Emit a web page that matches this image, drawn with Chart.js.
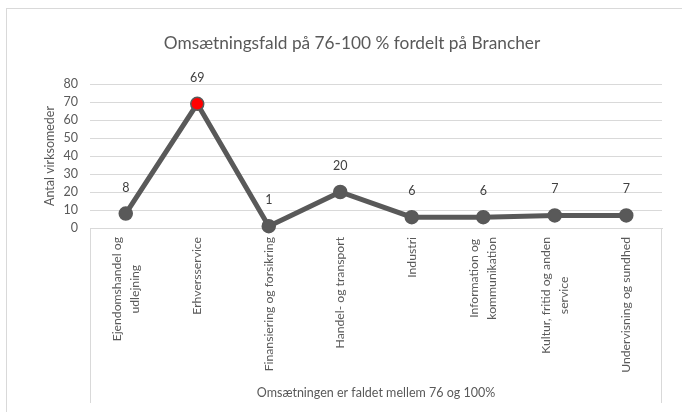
<!DOCTYPE html>
<html>
<head>
<meta charset="utf-8">
<script src="https://cdn.jsdelivr.net/npm/chart.js@4"></script>
<style>
  body { margin: 0; background: #fff; }
  canvas { display: block; }
</style>
</head>
<body>
<canvas id="brancheChart" width="682" height="412"></canvas>
<script>
const chartTitle = 'Omsætningsfald på 76-100 % fordelt på Brancher';
const yTitle = 'Antal virksomeder';
const xTitle = 'Omsætningen er faldet mellem 76 og 100%';
const categories = [
    ['Ejendomshandel og', 'udlejning'],
    'Erhversservice',
    'Finansiering og forsikring',
    'Handel- og transport',
    'Industri',
    ['Information og', 'kommunikation'],
    ['Kultur, fritid og anden', 'service'],
    'Undervisning og sundhed'
];
const antal = [8, 69, 1, 20, 6, 6, 7, 7];
const highlightIndex = 1; // Erhversservice er markeret med rødt

const FONT = 'Lato, "Liberation Sans", sans-serif';
const TXT = '#595959';
const GRID = '#d9d9d9';

// Excel-diagrammet er bredere end billedet: ramme og titel er centreret på hele diagramobjektet
const excelLook = {
    id: 'excelLook',
    beforeDraw(chart) {
        const ctx = chart.ctx;
        ctx.save();
        ctx.strokeStyle = GRID;
        ctx.lineWidth = 1;
        ctx.strokeRect(6.5, 8.5, 700, 420);
        ctx.font = '17.3px ' + FONT;
        ctx.fillStyle = TXT;
        ctx.textAlign = 'center';
        ctx.textBaseline = 'middle';
        ctx.fillText(chartTitle, 352, 43);
        ctx.restore();
    },
    afterDraw(chart) {
        const ctx = chart.ctx;
        const x = chart.scales.x;
        const bottom = chart.chartArea.bottom;
        ctx.save();
        ctx.strokeStyle = GRID;
        ctx.lineWidth = 1;
        ctx.beginPath();
        ctx.moveTo(Math.round(x.left) + 0.5, bottom);
        ctx.lineTo(Math.round(x.left) + 0.5, 403);
        ctx.moveTo(Math.round(x.right) - 0.5, bottom);
        ctx.lineTo(Math.round(x.right) - 0.5, 403);
        ctx.stroke();

        // kategori-etiketter, flere linjer centreret som i Excel
        ctx.font = '12.2px ' + FONT;
        ctx.fillStyle = TXT;
        ctx.textBaseline = 'middle';
        ctx.textAlign = 'center';
        const lineH = 18;
        categories.forEach((lab, i) => {
            const lines = Array.isArray(lab) ? lab : [lab];
            const maxW = Math.max(...lines.map(l => ctx.measureText(l).width));
            ctx.save();
            ctx.translate(x.getPixelForTick(i), bottom + 9);
            ctx.rotate(-Math.PI / 2);
            lines.forEach((l, j) => {
                ctx.fillText(l, -maxW / 2, (j - (lines.length - 1) / 2) * lineH);
            });
            ctx.restore();
        });

        // datamærker over punkterne
        const meta = chart.getDatasetMeta(0);
        ctx.font = '12.5px ' + FONT;
        ctx.fillStyle = '#404040';
        meta.data.forEach((pt, i) => {
            ctx.fillText(String(antal[i]), pt.x, pt.y - 26);
        });
        ctx.restore();
    }
};

new Chart(document.getElementById('brancheChart'), {
    type: 'line',
    data: {
        labels: categories,
        datasets: [{
            data: antal,
            borderColor: TXT,
            borderWidth: 5,
            pointRadius: 6.5,
            pointHoverRadius: 6.5,
            pointBorderWidth: 1.5,
            pointBorderColor: TXT,
            pointBackgroundColor: antal.map((_, i) => i === highlightIndex ? '#ff0000' : TXT),
            tension: 0,
            clip: false
        }]
    },
    options: {
        responsive: false,
        animation: false,
        layout: { padding: { left: 6, right: 20, top: 84, bottom: 0 } },
        plugins: {
            legend: { display: false },
            tooltip: { enabled: false },
            title: { display: false }
        },
        scales: {
            x: {
                offset: true,
                grid: { display: false },
                border: { display: true, color: GRID },
                ticks: { display: false },
                title: {
                    display: true,
                    text: xTitle,
                    color: TXT,
                    font: { family: FONT, size: 12.5 },
                    padding: { top: 0, bottom: 12 }
                },
                afterFit: s => { s.height = 184; }
            },
            y: {
                min: 0,
                max: 80,
                ticks: { stepSize: 10, color: TXT, padding: 12, font: { family: FONT, size: 12.5 } },
                grid: { color: GRID, drawTicks: false },
                border: { display: false },
                title: {
                    display: true,
                    text: yTitle,
                    color: TXT,
                    font: { family: FONT, size: 12.5 },
                    padding: { top: 36, bottom: 0 }
                },
                afterFit: s => { s.width = 84; }
            }
        }
    },
    plugins: [excelLook]
});
</script>
</body>
</html>
